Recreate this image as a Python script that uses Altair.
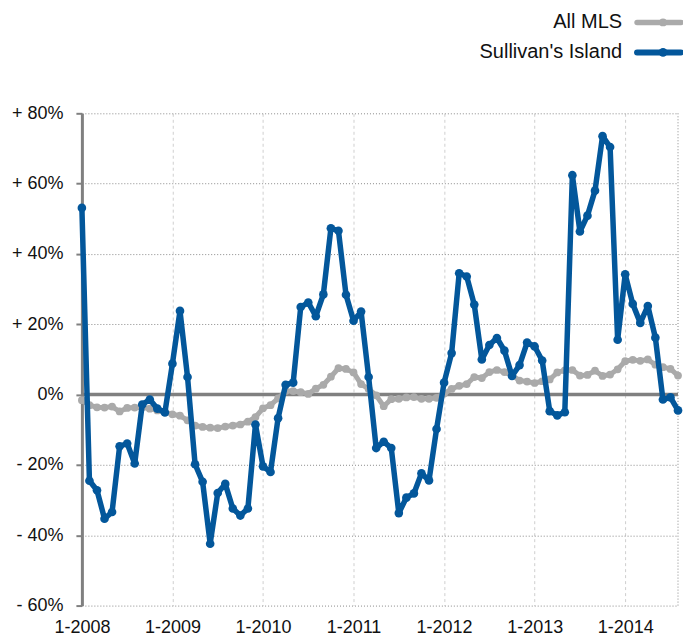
import altair as alt
import pandas as pd

# ---------------- data (monthly, Jan 2008 - Aug 2014) ----------------
series_names = ["All MLS", "Sullivan's Island"]
series_colors = ["#aaaaaa", "#03579b"]
start_year = 2008

all_mls = [
    -1.6, -3.0, -3.6, -3.7, -3.4, -4.8, -3.8, -3.7, -3.6, -4.0, -4.5, -5.0,   # 2008
    -5.6, -6.0, -7.3, -8.8, -9.2, -9.4, -9.5, -9.1, -8.8, -8.5, -7.7, -6.4,   # 2009
    -3.9, -3.0, -1.1, 1.0, 1.0, 0.7, 0.2, 1.7, 2.8, 5.1, 7.5, 7.3,            # 2010
    6.3, 3.0, 1.6, -0.2, -3.3, -1.3, -1.2, -0.8, -0.7, -1.2, -1.2, -0.9,      # 2011
    0.3, 1.6, 2.5, 3.0, 5.0, 4.7, 6.4, 7.0, 6.4, 5.5, 4.0, 3.7,               # 2012
    3.3, 3.8, 4.3, 6.3, 6.9, 7.0, 5.4, 5.6, 6.8, 5.3, 5.7, 7.2,               # 2013
    9.5, 9.9, 9.6, 10.0, 8.5, 7.8, 7.3, 5.4,                                  # 2014
]

sullivans = [
    53.1, -24.5, -27.2, -35.3, -33.4, -14.7, -13.9, -19.6, -2.8, -1.4, -4.0, -5.1,   # 2008
    8.8, 23.8, 5.0, -19.8, -24.8, -42.4, -28.0, -25.4, -32.4, -34.4, -32.4, -8.5,    # 2009
    -20.4, -22.0, -6.7, 2.8, 3.4, 24.9, 26.2, 22.3, 28.5, 47.3, 46.6, 28.4,          # 2010
    21.0, 23.6, 5.0, -15.2, -13.4, -15.2, -33.7, -29.3, -28.1, -22.4, -24.4, -9.8,   # 2011
    3.4, 11.8, 34.5, 33.6, 25.6, 10.0, 14.1, 16.1, 12.5, 5.3, 8.4, 14.8,             # 2012
    13.7, 9.7, -4.7, -5.9, -5.0, 62.4, 46.4, 50.9, 58.0, 73.5, 70.4, 15.6,           # 2013
    34.2, 25.8, 20.4, 25.2, 16.2, -1.4, -0.8, -4.5,                                  # 2014
]

year_ticks = [0, 12, 24, 36, 48, 60, 72]
y_ticks = [-60, -40, -20, 0, 20, 40, 60, 80]

# ---------------- build tables ----------------
series_values = [all_mls, sullivans]
frames = []
for name, vals in zip(series_names, series_values):
    frames.append(pd.DataFrame({"month": list(range(len(vals))), "series": name, "value": vals}))

n_months = len(sullivans)
W, H = 597, 493
FONT = "Liberation Sans"

x_scale = alt.Scale(domain=[0, n_months - 1], nice=False, zero=False)
y_scale = alt.Scale(domain=[y_ticks[0], y_ticks[-1]], nice=False, zero=False)

x_axis = alt.Axis(
    values=year_ticks,
    labelExpr=f"'1-' + ({start_year} + datum.value / 12)",
    domain=False, ticks=False, tickSize=0, labelPadding=13,
    grid=True, gridDash=[3, 3], gridColor="#cfcfcf", gridWidth=1,
    labelFontSize=18, labelFont=FONT, labelColor="#111111",
    labelFlush=False, labelOverlap=False, title=None,
)
y_axis = alt.Axis(
    values=y_ticks,
    labelExpr="datum.value > 0 ? '+ ' + datum.value + '%' : (datum.value < 0 ? '- ' + (-datum.value) + '%' : '0%')",
    domain=True, domainColor="#808080", domainWidth=3,
    ticks=True, tickColor="#808080", tickSize=6, tickWidth=2, labelPadding=13,
    grid=True, gridDash=[1, 2], gridColor="#8a8a8a", gridWidth=1,
    labelFontSize=18, labelFont=FONT, labelColor="#111111",
    labelFlush=False, labelOverlap=False, title=None,
)

X = lambda field: alt.X(field, scale=x_scale, axis=x_axis)
Y = lambda field: alt.Y(field, scale=y_scale, axis=y_axis)

layers = []

# zero line
layers.append(
    alt.Chart(pd.DataFrame({"v": [0]}))
    .mark_rule(color="#808080", strokeWidth=3.5)
    .encode(y=Y("v:Q"))
)
# dotted right border
layers.append(
    alt.Chart(pd.DataFrame({"m": [n_months - 1]}))
    .mark_rule(color="#8a8a8a", strokeDash=[1, 2], strokeWidth=1)
    .encode(x=X("m:Q"))
)

widths = [5, 5.5]
sizes = [60, 75]
for i, (name, color) in enumerate(zip(series_names, series_colors)):
    layers.append(
        alt.Chart(frames[i])
        .mark_line(color=color, strokeWidth=widths[i], strokeJoin="round", strokeCap="round")
        .encode(x=X("month:Q"), y=Y("value:Q"))
    )
    layers.append(
        alt.Chart(frames[i])
        .mark_circle(color=color, size=sizes[i], opacity=1)
        .encode(x=X("month:Q"), y=Y("value:Q"))
    )

# legend (top right)
for i, (name, color) in enumerate(zip(series_names, series_colors)):
    ly = -91 + 30 * i
    ldf = pd.DataFrame({"series": [name]})
    layers.append(
        alt.Chart(ldf)
        .mark_text(align="right", baseline="middle", fontSize=20, font=FONT, color="#111111")
        .encode(text="series:N", x=alt.value(541), y=alt.value(ly))
    )
    layers.append(
        alt.Chart(ldf)
        .mark_rule(color=color, strokeWidth=widths[i] + 0.5, strokeCap="round")
        .encode(x=alt.value(556), x2=alt.value(600), y=alt.value(ly))
    )
    layers.append(
        alt.Chart(ldf)
        .mark_circle(color=color, size=sizes[i], opacity=1)
        .encode(x=alt.value(582), y=alt.value(ly))
    )

chart = (
    alt.layer(*layers)
    .properties(
        width=W,
        height=H,
        autosize=alt.AutoSizeParams(type="none"),
        padding={"left": 74, "top": 105, "right": 5, "bottom": 30},
    )
    .configure_view(stroke=None)
)

chart.save("out.html", embed_options={"renderer": "svg", "actions": False})
